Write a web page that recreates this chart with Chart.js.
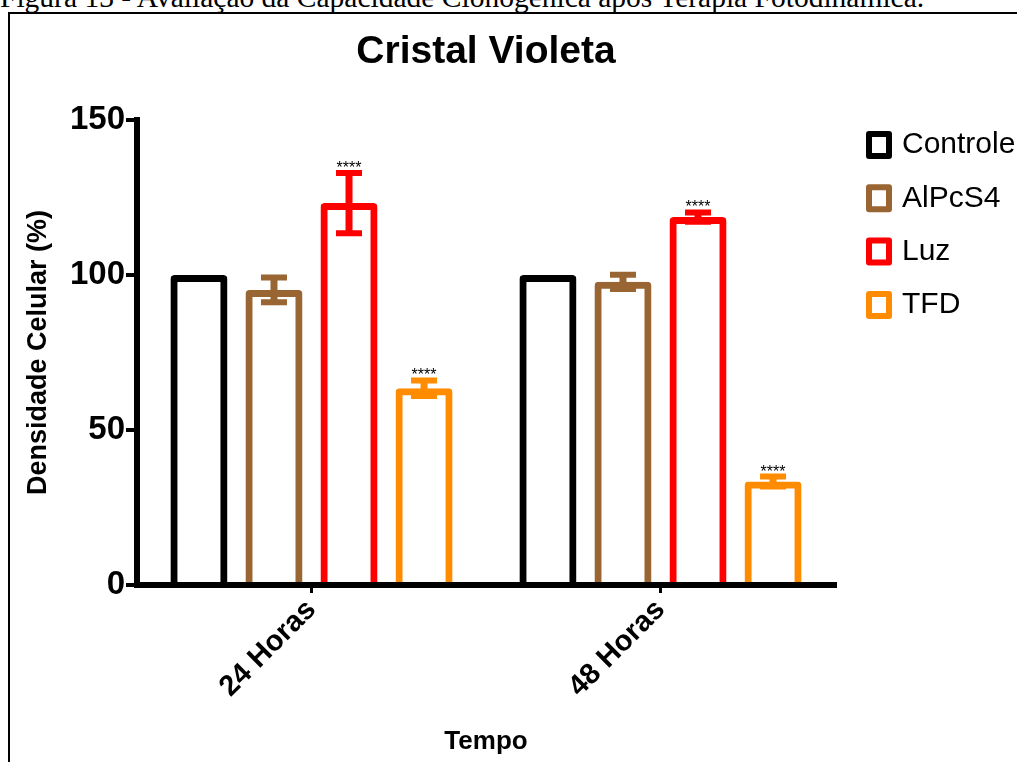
<!DOCTYPE html>
<html lang="pt-BR">
<head>
<meta charset="utf-8">
<title>Cristal Violeta</title>
<script src="https://cdn.jsdelivr.net/npm/chart.js@4.4.0/dist/chart.umd.min.js"></script>
<style>
  html, body { margin: 0; padding: 0; background: #fff; width: 1017px; height: 762px; overflow: hidden; }
  #legenda { position: absolute; left: 0; top: -17px; font: 29.5px "Liberation Serif", "Times New Roman", serif; line-height: 29.5px; white-space: nowrap; color: #000; }
  #moldura { position: absolute; left: 8px; top: 12px; width: 1100px; height: 800px; border: 2px solid #000; }
  #chart { position: absolute; left: 0; top: 0; }
</style>
</head>
<body>
<div id="legenda">Figura 13 - Avaliação da Capacidade Clonogênica após Terapia Fotodinâmica.</div>
<div id="moldura"></div>
<canvas id="chart" width="1017" height="762"></canvas>
<script>
// dados
const categorias = ['24 Horas', '48 Horas'];
const grupos = ['Controle', 'AlPcS4', 'Luz', 'TFD'];
const cores = ['#000000', '#996633', '#FF0000', '#FF8C00'];

const controle = [100, 100];
const alpcs4 = [95.2, 97.8];
const luz = [123.2, 118.7];
const tfd = [63.5, 33.4];

// erro padrão (barras de erro)
const erroControle = [0, 0];
const erroAlpcs4 = [4.0, 2.3];
const erroLuz = [9.7, 1.5];
const erroTfd = [2.5, 1.6];

// significância
const sigControle = ['', ''];
const sigAlpcs4 = ['', ''];
const sigLuz = ['****', '****'];
const sigTfd = ['****', '****'];

const ticksY = [0, 50, 100, 150];

const fonte = '"Liberation Sans", Arial, sans-serif';
const valores = [controle, alpcs4, luz, tfd];
const erros = [erroControle, erroAlpcs4, erroLuz, erroTfd];
const sigs = [sigControle, sigAlpcs4, sigLuz, sigTfd];

// barras de erro, asteriscos, título e legenda
const extras = {
  id: 'extras',
  afterDatasetsDraw(chart) {
    const ctx = chart.ctx;
    const y = chart.scales.y;
    chart.data.datasets.forEach((ds, i) => {
      const meta = chart.getDatasetMeta(i);
      meta.data.forEach((bar, j) => {
        const e = ds.erro[j];
        const topo = y.getPixelForValue(ds.data[j] + e);
        if (e > 0) {
          const base = y.getPixelForValue(ds.data[j] - e);
          ctx.save();
          ctx.strokeStyle = ds.borderColor;
          ctx.lineWidth = 7;
          ctx.beginPath();
          ctx.moveTo(bar.x, topo);
          ctx.lineTo(bar.x, base);
          ctx.stroke();
          ctx.lineWidth = 6;
          ctx.beginPath();
          ctx.moveTo(bar.x - 13, topo);
          ctx.lineTo(bar.x + 13, topo);
          ctx.moveTo(bar.x - 13, base);
          ctx.lineTo(bar.x + 13, base);
          ctx.stroke();
          ctx.restore();
        }
        if (ds.sig[j]) {
          ctx.save();
          ctx.fillStyle = '#000';
          ctx.font = '16px ' + fonte;
          ctx.textAlign = 'center';
          ctx.textBaseline = 'alphabetic';
          ctx.fillText(ds.sig[j], bar.x, topo);
          ctx.restore();
        }
      });
    });
  },
  afterDraw(chart) {
    const ctx = chart.ctx;
    const area = chart.chartArea;
    ctx.save();
    ctx.fillStyle = '#000';
    ctx.font = 'bold 39px ' + fonte;
    ctx.textAlign = 'center';
    ctx.textBaseline = 'alphabetic';
    ctx.fillText('Cristal Violeta', (area.left + area.right) / 2, 63);

    // legenda
    chart.data.datasets.forEach((ds, i) => {
      const cy = 145 + i * 53.3;
      ctx.strokeStyle = ds.borderColor;
      ctx.lineWidth = 6;
      ctx.lineJoin = 'round';
      ctx.strokeRect(869, cy - 11, 20, 22);
      ctx.fillStyle = '#000';
      ctx.font = '30px ' + fonte;
      ctx.textAlign = 'left';
      ctx.textBaseline = 'middle';
      ctx.fillText(ds.label, 902, cy);
    });
    ctx.restore();
  }
};

const ctx = document.getElementById('chart').getContext('2d');
new Chart(ctx, {
  type: 'bar',
  data: {
    labels: categorias,
    datasets: grupos.map((g, i) => ({
      label: g,
      data: valores[i],
      erro: erros[i],
      sig: sigs[i],
      backgroundColor: 'rgba(255,255,255,0)',
      borderColor: cores[i],
      borderWidth: 7,
      borderSkipped: 'start',
      borderRadius: { topLeft: 4, topRight: 4, bottomLeft: 0, bottomRight: 0 },
      categoryPercentage: 0.86,
      barPercentage: 0.76
    }))
  },
  options: {
    responsive: false,
    animation: false,
    devicePixelRatio: 1,
    layout: { padding: { top: 120, right: 182, bottom: 0, left: 0 } },
    plugins: {
      legend: { display: false },
      tooltip: { enabled: false }
    },
    scales: {
      x: {
        grid: { display: true, drawOnChartArea: false, offset: false, tickLength: 8, lineWidth: 3, color: '#000', tickColor: '#000' },
        border: { display: true, color: '#000', width: 6, z: 1 },
        ticks: {
          color: '#000',
          font: { family: fonte, size: 29, weight: 'bold' },
          maxRotation: 45,
          minRotation: 45,
          padding: 0,
          autoSkip: false
        },
        title: {
          display: true,
          text: 'Tempo',
          color: '#000',
          font: { family: fonte, size: 26, weight: 'bold' },
          padding: { top: 0, bottom: 5 }
        },
        afterFit(s) { s.height = 177; }
      },
      y: {
        min: 0,
        max: 150,
        afterBuildTicks(s) { s.ticks = ticksY.map(v => ({ value: v })); },
        grid: { drawOnChartArea: false, tickLength: 11, lineWidth: 4, color: '#000', tickColor: '#000' },
        border: { color: '#000', width: 6 },
        ticks: {
          color: '#000',
          font: { family: fonte, size: 33, weight: 'bold' },
          padding: 1
        },
        title: {
          display: true,
          text: 'Densidade Celular (%)',
          color: '#000',
          font: { family: fonte, size: 27, weight: 'bold' },
          padding: { top: 22, bottom: 0 }
        },
        afterFit(s) { s.width = 137; }
      }
    }
  },
  plugins: [extras]
});
</script>
</body>
</html>
